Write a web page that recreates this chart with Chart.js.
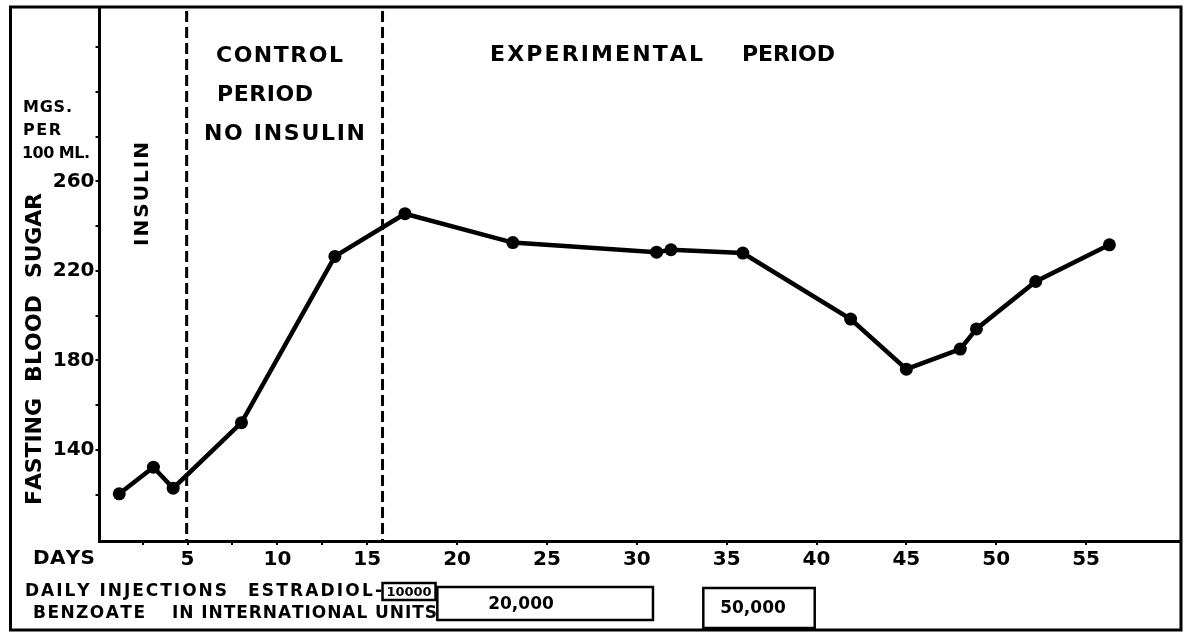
<!DOCTYPE html>
<html>
<head>
<meta charset="utf-8">
<script src="https://cdn.jsdelivr.net/npm/chart.js@4.4.1/dist/chart.umd.min.js"></script>
<style>
html, body { margin: 0; padding: 0; background: #fff; }
canvas { display: block; }
</style>
</head>
<body>
<canvas id="sugarChart" width="1186" height="637"></canvas>
<script>
// values
const days = [1.2, 3.1, 4.2, 8.0, 13.2, 17.1, 23.1, 31.1, 31.9, 35.9, 41.9, 45.0, 48.0, 48.9, 52.2, 56.3];
const bloodSugar = [120.4, 132.3, 122.9, 152.2, 226.5, 245.6, 232.7, 228.4, 229.5, 228, 198.5, 176.1, 185.1, 194.1, 215.3, 231.7];

const xTicks = [2.5, 5, 7.5, 10, 12.5, 15, 20, 25, 30, 35, 40, 45, 50, 55];
const yTicks = [120, 140, 160, 180, 200, 220, 240, 260, 280, 300, 320];
const yLabels = [140, 180, 220, 260];

const periodLines = [4.95, 15.85];

const doseLabels = ['10000', '20,000', '50,000'];
const doseFrom = [15.85, 18.9, 33.7];
const doseTo = [18.8, 30.9, 39.9];

const FONT = '"DejaVu Sans", sans-serif';

function spacedText(ctx, text, left, y, width) {
    const chars = text.split('');
    let natural = 0;
    chars.forEach(c => natural += ctx.measureText(c).width);
    const gap = chars.length > 1 ? (width - natural) / (chars.length - 1) : 0;
    let x = left;
    ctx.textAlign = 'left';
    ctx.textBaseline = 'middle';
    for (const c of chars) {
        ctx.fillText(c, x, y);
        x += ctx.measureText(c).width + gap;
    }
}

const periodLinesPlugin = {
    id: 'periodLines',
    beforeDatasetsDraw(chart) {
        const ctx = chart.ctx;
        const area = chart.chartArea;
        const xs = chart.scales.x;
        ctx.save();
        ctx.strokeStyle = '#000';
        ctx.lineWidth = 3;
        ctx.setLineDash([11, 5]);
        for (const d of periodLines) {
            const px = xs.getPixelForValue(d);
            ctx.beginPath();
            ctx.moveTo(px, area.top + 4);
            ctx.lineTo(px, area.bottom);
            ctx.stroke();
        }
        ctx.restore();
    }
};

const labelsPlugin = {
    id: 'figureText',
    afterDraw(chart) {
        const ctx = chart.ctx;
        const xs = chart.scales.x;
        ctx.save();
        ctx.fillStyle = '#000';
        ctx.strokeStyle = '#000';

        // outer frame
        ctx.lineWidth = 3;
        ctx.strokeRect(10.5, 7, 1170.5, 623);

        // period headings
        ctx.font = 'bold 22px ' + FONT;
        spacedText(ctx, 'CONTROL', 216, 56, 127);
        spacedText(ctx, 'PERIOD', 217, 95, 96);
        spacedText(ctx, 'NO INSULIN', 204, 134, 161);
        spacedText(ctx, 'EXPERIMENTAL', 490, 55, 213);
        spacedText(ctx, 'PERIOD', 742, 55, 93);

        // units
        ctx.font = 'bold 16px ' + FONT;
        spacedText(ctx, 'MGS.', 23, 108, 49);
        spacedText(ctx, 'PER', 23, 131, 38);
        spacedText(ctx, '100 ML.', 22, 154, 68);

        // DAYS
        ctx.font = 'bold 20px ' + FONT;
        spacedText(ctx, 'DAYS', 33, 559, 62);

        // vertical texts
        ctx.save();
        ctx.translate(143, 194);
        ctx.rotate(-Math.PI / 2);
        ctx.font = 'bold 20px ' + FONT;
        spacedText(ctx, 'INSULIN', -52, 0, 104);
        ctx.restore();

        ctx.save();
        ctx.translate(35, 349);
        ctx.rotate(-Math.PI / 2);
        ctx.font = 'bold 22px ' + FONT;
        spacedText(ctx, 'FASTING', -156, 0, 107);
        spacedText(ctx, 'BLOOD', -33, 0, 87);
        spacedText(ctx, 'SUGAR', 71, 0, 85);
        ctx.restore();

        // injection legend
        ctx.font = 'bold 17px ' + FONT;
        spacedText(ctx, 'DAILY INJECTIONS', 25, 592, 202);
        spacedText(ctx, 'ESTRADIOL-', 248, 592, 134);
        spacedText(ctx, 'BENZOATE', 33, 614, 112);
        spacedText(ctx, 'IN INTERNATIONAL UNITS', 172, 614, 265);

        // dose boxes
        const boxRows = [[583, 600], [587, 620], [588, 628]];
        const boxTextX = [409, 521, 753];
        const boxFonts = ['bold 13px ', 'bold 17px ', 'bold 17px '];
        ctx.lineWidth = 2.5;
        for (let i = 0; i < doseLabels.length; i++) {
            const x0 = xs.getPixelForValue(doseFrom[i]);
            const x1 = xs.getPixelForValue(doseTo[i]);
            const [y0, y1] = boxRows[i];
            ctx.strokeRect(x0, y0, x1 - x0, y1 - y0);
            ctx.font = boxFonts[i] + FONT;
            ctx.textAlign = 'center';
            ctx.textBaseline = 'middle';
            ctx.fillText(doseLabels[i], boxTextX[i], (y0 + y1) / 2 + 1);
        }
        ctx.restore();
    }
};

new Chart(document.getElementById('sugarChart').getContext('2d'), {
    type: 'line',
    data: {
        datasets: [{
            data: days.map((d, i) => ({ x: d, y: bloodSugar[i] })),
            borderColor: '#000',
            borderWidth: 4.5,
            pointRadius: 6.5,
            pointBackgroundColor: '#000',
            pointBorderColor: '#000',
            pointBorderWidth: 0,
            tension: 0,
            fill: false
        }]
    },
    options: {
        responsive: false,
        animation: false,
        devicePixelRatio: 1,
        layout: {
            padding: { left: 10, right: 5, top: 7, bottom: 0 }
        },
        plugins: {
            legend: { display: false },
            tooltip: { enabled: false },
            title: { display: false }
        },
        scales: {
            x: {
                type: 'linear',
                min: 0.1,
                max: 60.2,
                afterBuildTicks: scale => { scale.ticks = xTicks.map(v => ({ value: v })); },
                afterFit: scale => {
                    scale.height = 96;
                    scale.paddingLeft = 0;
                    scale.paddingRight = 0;
                },
                ticks: {
                    autoSkip: false,
                    maxRotation: 0,
                    color: '#000',
                    padding: 3,
                    font: { family: FONT, size: 20, weight: 'bold' },
                    callback: v => (v % 5 === 0 ? String(v) : '')
                },
                grid: {
                    drawOnChartArea: false,
                    drawTicks: true,
                    tickLength: 4,
                    color: '#000',
                    lineWidth: 2
                },
                border: { display: true, color: '#000', width: 3 }
            },
            y: {
                min: 99.3,
                max: 338,
                afterBuildTicks: scale => { scale.ticks = yTicks.map(v => ({ value: v })); },
                afterFit: scale => {
                    scale.width = 89.5;
                    scale.paddingTop = 0;
                    scale.paddingBottom = 0;
                },
                ticks: {
                    autoSkip: false,
                    color: '#000',
                    padding: 1,
                    font: { family: FONT, size: 20, weight: 'bold' },
                    callback: v => (yLabels.includes(v) ? String(v) : '')
                },
                grid: {
                    drawOnChartArea: false,
                    drawTicks: true,
                    tickLength: 4,
                    color: '#000',
                    lineWidth: 2
                },
                border: { display: true, color: '#000', width: 3 }
            }
        }
    },
    plugins: [periodLinesPlugin, labelsPlugin]
});
</script>
</body>
</html>
